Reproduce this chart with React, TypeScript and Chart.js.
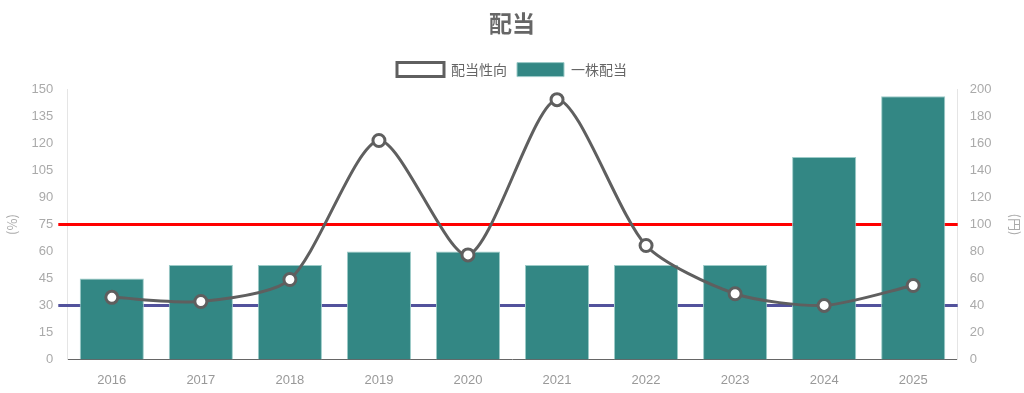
import React, { useEffect, useRef } from "react";
import { Chart, registerables } from "chart.js";

Chart.register(...registerables);

const years = ["2016", "2017", "2018", "2019", "2020", "2021", "2022", "2023", "2024", "2025"];
// 配当性向 (%)
const payoutRatio = [34.5, 32.2, 44.4, 121.7, 58.1, 144.4, 63.3, 36.5, 30.0, 41.1];
// 一株配当 (円)
const dividendPerShare = [60, 70, 70, 80, 80, 70, 70, 70, 150, 195];
// reference levels on the % axis
const upperLevel = 75;
const lowerLevel = 30;

const CJK = "'Noto Sans CJK JP', 'Liberation Sans', sans-serif";
const LATIN = "'Liberation Sans', Arial, sans-serif";

// horizontal level lines, starting a little left of the plot area
const refLines = {
  id: "refLines",
  beforeDatasetsDraw(chart: any) {
    const { ctx, chartArea, scales } = chart;
    const y = scales.y;
    const draw = (v: number, color: string) => {
      const py = Math.round(y.getPixelForValue(v)) + 0.5;
      ctx.save();
      ctx.strokeStyle = color;
      ctx.lineWidth = 3;
      ctx.beginPath();
      ctx.moveTo(chartArea.left - 9, py);
      ctx.lineTo(chartArea.right, py);
      ctx.stroke();
      ctx.restore();
    };
    draw(upperLevel, "#ff0000");
    draw(lowerLevel, "#52529c");
  },
};

// a little extra space below the legend
const legendSpacer = {
  id: "legendSpacer",
  beforeInit(chart: any) {
    const legend = chart.legend;
    if (!legend) return;
    const fit = legend.fit;
    legend.fit = function () {
      fit.call(this);
      this.height += 3;
    };
  },
};

export default function App() {
  const ref = useRef<HTMLCanvasElement>(null);
  useEffect(() => {
    if (!ref.current) return;
    const chart = new Chart(ref.current, {
      type: "bar",
      data: {
        labels: years,
        datasets: [
          {
            type: "line",
            label: "配当性向",
            data: payoutRatio,
            yAxisID: "y",
            borderColor: "#5f5f5f",
            backgroundColor: "#ffffff",
            borderWidth: 3,
            tension: 0.25,
            pointRadius: 6,
            pointBorderWidth: 3,
            pointBackgroundColor: "#ffffff",
            pointBorderColor: "#5f5f5f",
            order: 0,
          } as any,
          {
            type: "bar",
            label: "一株配当",
            data: dividendPerShare,
            yAxisID: "y1",
            backgroundColor: "#338784",
            borderColor: "#9ccbc8",
            borderWidth: 1,
            order: 1,
          },
        ],
      },
      options: {
        animation: false,
        responsive: true,
        maintainAspectRatio: false,
        layout: { padding: { left: 0, right: 0, bottom: 0, top: 0 } },
        plugins: {
          title: {
            display: true,
            text: "配当",
            color: "#666666",
            font: { family: CJK, size: 23, weight: "bold" },
            padding: { top: 9, bottom: 16 },
          },
          legend: {
            position: "top",
            labels: {
              color: "#666666",
              font: { family: CJK, size: 14 },
              boxWidth: 47,
              boxHeight: 14,
              padding: 10,
            },
          },
          tooltip: { enabled: false },
        },
        scales: {
          x: {
            grid: { display: false },
            border: { color: "#666666", width: 1 },
            ticks: { color: "#999999", font: { family: LATIN, size: 13 }, padding: 5 },
          },
          y: {
            position: "left",
            min: 0,
            max: 150,
            grid: { display: false },
            border: { color: "#e5e5e5" },
            ticks: {
              stepSize: 15,
              padding: 6,
              color: "#aaaaaa",
              font: { family: LATIN, size: 13 },
            },
            title: {
              display: true,
              text: "(%)",
              color: "#aaaaaa",
              font: { family: CJK, size: 13 },
              padding: { top: 4, bottom: 6 },
            },
          },
          y1: {
            position: "right",
            min: 0,
            max: 200,
            grid: { display: false },
            border: { color: "#e5e5e5" },
            ticks: {
              stepSize: 20,
              padding: 4,
              color: "#aaaaaa",
              font: { family: LATIN, size: 13 },
            },
            title: {
              display: true,
              text: "(円)",
              color: "#aaaaaa",
              font: { family: CJK, size: 13 },
              padding: { top: 1, bottom: 12 },
            },
          },
        },
      },
      plugins: [refLines, legendSpacer],
    });
    return () => chart.destroy();
  }, []);
  return (
    <div style={{ position: "fixed", left: 0, top: 0, width: 1024, height: 393, background: "#fff" }}>
      <canvas ref={ref} />
    </div>
  );
}
